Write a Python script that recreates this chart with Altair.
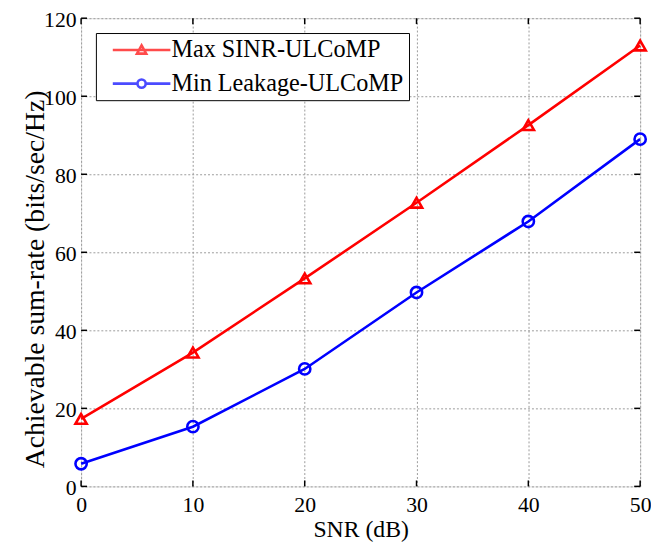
import altair as alt
import pandas as pd

snr = [0, 10, 20, 30, 40, 50]
max_sinr = [17.3, 34.3, 53.3, 72.7, 92.6, 113.0]
min_leak = [5.8, 15.3, 30.1, 49.7, 67.9, 89.0]
series_names = ["Max SINR-ULCoMP", "Min Leakage-ULCoMP"]
colors = ["#ff0000", "#0000ff"]
x_ticks = [0, 10, 20, 30, 40, 50]
y_ticks = [0, 20, 40, 60, 80, 100, 120]

rows = []
for s, v in zip(snr, max_sinr):
    rows.append({"snr": s, "rate": v, "series": series_names[0]})
for s, v in zip(snr, min_leak):
    rows.append({"snr": s, "rate": v, "series": series_names[1]})
df = pd.DataFrame(rows)

TOP = 7
W, H = 566, 474
FONT = "Liberation Serif"

xscale = alt.Scale(domain=[0, 50], nice=False, zero=False)
yscale = alt.Scale(domain=[0, 120], nice=False)

x_axis = alt.Axis(values=x_ticks, title="SNR (dB)", grid=True, ticks=False, domain=False,
                  labelFontSize=22, labelFont=FONT, labelColor="black", labelPadding=8,
                  titleFontSize=24, titleFont=FONT, titleFontWeight="normal", titleColor="black",
                  titlePadding=3, gridColor="#9a9a9a", gridDash=[2, 2], gridWidth=1, labelFlush=False)
y_axis = alt.Axis(values=y_ticks, title="Achievable sum-rate (bits/sec/Hz)", grid=True, ticks=False, domain=False,
                  labelFontSize=22, labelFont=FONT, labelColor="black", labelPadding=5, labelOffset=1,
                  titleFontSize=28, titleFont=FONT, titleFontWeight="normal", titleColor="black",
                  titleX=-32, titleY=264, titleAngle=270, titleBaseline="bottom", titleAlign="center",
                  gridColor="#9a9a9a", gridDash=[2, 2], gridWidth=1, labelFlush=False)

color_scale = alt.Scale(domain=series_names, range=colors)

base = alt.Chart(df)

lines = base.mark_line(strokeWidth=2.6).encode(
    x=alt.X("snr:Q", scale=xscale, axis=x_axis),
    y=alt.Y("rate:Q", scale=yscale, axis=y_axis),
    color=alt.Color("series:N", scale=color_scale, legend=None),
    detail="series:N",
)

points = base.mark_point(filled=False, strokeWidth=2.6, opacity=1).encode(
    x=alt.X("snr:Q", scale=xscale),
    y=alt.Y("rate:Q", scale=yscale),
    color=alt.Color("series:N", scale=color_scale, legend=None),
    shape=alt.Shape("series:N", scale=alt.Scale(domain=series_names, range=["triangle-up", "circle"]), legend=None),
    size=alt.value(130),
)

tri_path = "M-5.3,0L5.3,0M0,-0.85L0.85,0.65L-0.85,0.65Z"
circ_path = "M-5.3,0L-0.75,0M0.75,0L5.3,0M0.75,0A0.75,0.75 0 1,1 -0.75,0A0.75,0.75 0 1,1 0.75,0"

legend = alt.Legend(title=None, orient="none", legendX=15, legendY=15,
                    labelFont=FONT, labelFontSize=24.5, labelColor="black",
                    symbolSize=121, symbolStrokeWidth=2.6, symbolOffset=29, labelOffset=18,
                    strokeColor="black", fillColor="white", padding=5, rowPadding=9,
                    symbolType="circle", labelLimit=400)

legend_layer = base.transform_filter("datum.rate < -1000").mark_point(filled=False, strokeWidth=2.6).encode(
    x=alt.X("snr:Q", scale=xscale),
    y=alt.Y("rate:Q", scale=yscale),
    color=alt.Color("series:N", scale=color_scale, legend=legend),
    shape=alt.Shape("series:N", scale=alt.Scale(domain=series_names, range=[tri_path, circ_path]), legend=legend),
)

tick_df_x = pd.DataFrame({"v": x_ticks})
tick_df_y = pd.DataFrame({"v": y_ticks})
tick_style = dict(color="black", strokeWidth=1.5)
xt_bottom = alt.Chart(tick_df_x).mark_rule(**tick_style).encode(
    x=alt.X("v:Q", scale=xscale), y=alt.value(H), y2=alt.value(H - 6))
xt_top = alt.Chart(tick_df_x).mark_rule(**tick_style).encode(
    x=alt.X("v:Q", scale=xscale), y=alt.value(0), y2=alt.value(6))
yt_left = alt.Chart(tick_df_y).mark_rule(**tick_style).encode(
    y=alt.Y("v:Q", scale=yscale), x=alt.value(0), x2=alt.value(6))
yt_right = alt.Chart(tick_df_y).mark_rule(**tick_style).encode(
    y=alt.Y("v:Q", scale=yscale), x=alt.value(W), x2=alt.value(W - 6))

chart = alt.layer(
    xt_bottom, xt_top, yt_left, yt_right, lines, points, legend_layer
).resolve_scale(
    color="independent", shape="independent"
).properties(
    width=W, height=H,
    autosize=alt.AutoSizeParams(type="none"),
    padding={"left": 74, "top": TOP, "right": 11, "bottom": 55},
).configure_view(
    stroke="black", strokeWidth=2.2
).configure(background="white")

chart.save("out.html", embed_options={"renderer": "svg", "actions": False})
